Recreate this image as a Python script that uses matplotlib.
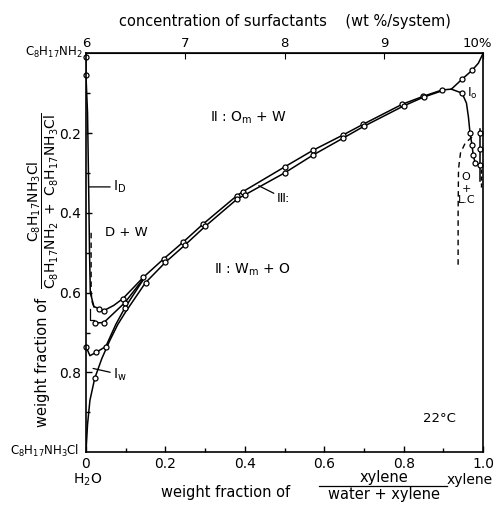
import matplotlib.pyplot as plt
import numpy as np

# boundary curves (x = xylene fraction, y = C8H17NH3Cl fraction)
id_x = [0.0, 0.0, 0.004, 0.007, 0.009, 0.011, 0.02]
id_y = [0.0, 0.055, 0.15, 0.35, 0.5, 0.6, 0.635]
id_pts_x = [0.0, 0.0]
id_pts_y = [0.01, 0.055]

upper_x = [0.02, 0.033, 0.045, 0.07, 0.093, 0.144, 0.196, 0.245, 0.295, 0.38, 0.395, 0.5, 0.572, 0.647, 0.698, 0.796, 0.849, 0.897, 0.92]
upper_y = [0.635, 0.64, 0.645, 0.632, 0.615, 0.562, 0.515, 0.473, 0.428, 0.357, 0.347, 0.285, 0.243, 0.205, 0.178, 0.128, 0.108, 0.092, 0.09]
upper_pts_x = [0.033, 0.045, 0.093, 0.144, 0.196, 0.245, 0.295, 0.38, 0.395, 0.5, 0.572, 0.647, 0.698, 0.796, 0.849, 0.897]
upper_pts_y = [0.64, 0.645, 0.615, 0.562, 0.515, 0.473, 0.428, 0.357, 0.347, 0.285, 0.243, 0.205, 0.178, 0.128, 0.108, 0.092]

mid_x = [0.023, 0.045, 0.098, 0.144]
mid_y = [0.676, 0.675, 0.625, 0.566]
mid_pts_x = [0.023, 0.045, 0.098]
mid_pts_y = [0.676, 0.675, 0.625]

a_x = [0.0, 0.01, 0.025, 0.05, 0.075, 0.098, 0.144]
a_y = [0.735, 0.758, 0.75, 0.735, 0.68, 0.638, 0.568]
a_pts_x = [0.0, 0.025, 0.05, 0.098]
a_pts_y = [0.735, 0.75, 0.735, 0.638]

iw_x = [0.0, 0.004, 0.01, 0.022, 0.04, 0.06, 0.08, 0.1, 0.15, 0.2, 0.25, 0.3, 0.38, 0.4, 0.5, 0.572, 0.647, 0.7, 0.8, 0.85, 0.9]
iw_y = [1.0, 0.93, 0.87, 0.815, 0.765, 0.72, 0.68, 0.648, 0.575, 0.524, 0.48, 0.434, 0.366, 0.355, 0.3, 0.255, 0.213, 0.183, 0.132, 0.11, 0.093]
iw_pts_x = [0.022, 0.15, 0.2, 0.25, 0.3, 0.38, 0.4, 0.5, 0.572, 0.647, 0.7, 0.8, 0.85]
iw_pts_y = [0.815, 0.575, 0.524, 0.48, 0.434, 0.366, 0.355, 0.3, 0.255, 0.213, 0.183, 0.132, 0.11]

io_up_x = [0.92, 0.947, 0.972, 0.988, 1.0]
io_up_y = [0.09, 0.065, 0.043, 0.025, 0.0]
io_up_pts_x = [0.947, 0.972]
io_up_pts_y = [0.065, 0.043]

io_dn_x = [0.92, 0.947, 0.958, 0.963, 0.967, 0.972, 0.975, 0.98]
io_dn_y = [0.09, 0.1, 0.125, 0.16, 0.2, 0.23, 0.255, 0.275]
io_dn_pts_x = [0.947, 0.967, 0.972, 0.975, 0.98]
io_dn_pts_y = [0.1, 0.2, 0.23, 0.255, 0.275]

edge_pts_x = [0.992, 0.992, 0.992]
edge_pts_y = [0.2, 0.24, 0.28]

lc_x = [0.972, 0.955, 0.943, 0.938, 0.937, 0.937]
lc_y = [0.21, 0.225, 0.25, 0.29, 0.4, 0.535]

d_x = [0.013, 0.013, 0.016, 0.022]
d_y = [0.45, 0.6, 0.625, 0.64]

bottom_ticks = [0, 0.2, 0.4, 0.6, 0.8, 1.0]
bottom_labels = ['0', '0.2', '0.4', '0.6', '0.8', '1.0']
left_ticks = [0.2, 0.4, 0.6, 0.8]
left_labels = ['0.2', '0.4', '0.6', '0.8']
top_vals = [6, 7, 8, 9, 10]
top_labels = ['6', '7', '8', '9', '']

fig = plt.figure(figsize=(4.94, 5.07), dpi=100)
ax = fig.add_axes([0.174, 0.108, 0.804, 0.787])

lw = 1.1
mk = dict(marker='o', ms=3.6, mfc='white', mec='black', mew=0.9, ls='none')

ax.plot(id_x, id_y, color='black', lw=lw)
ax.plot(upper_x, upper_y, color='black', lw=lw)
ax.plot(mid_x, mid_y, color='black', lw=lw)
ax.plot(a_x, a_y, color='black', lw=lw)
ax.plot(iw_x, iw_y, color='black', lw=lw)
ax.plot(io_up_x, io_up_y, color='black', lw=lw)
ax.plot(io_dn_x, io_dn_y, color='black', lw=lw)
ax.plot([0.992, 0.992], [0.19, 0.32], color='black', lw=lw)
ax.plot(lc_x, lc_y, color='black', lw=1.0, ls=(0, (4, 3)))
ax.plot([0.995, 0.995], [0.29, 0.34], color='black', lw=1.0, ls=(0, (3, 2)))
ax.plot(d_x, d_y, color='black', lw=1.0, ls=(0, (4, 3)))
# small tie line marks near the water corner
ax.plot([0.01, 0.01, 0.02], [0.64, 0.668, 0.668], color='black', lw=0.9)

for px, py in [(id_pts_x, id_pts_y), (upper_pts_x, upper_pts_y), (mid_pts_x, mid_pts_y),
               (a_pts_x, a_pts_y), (iw_pts_x, iw_pts_y), (io_up_pts_x, io_up_pts_y),
               (io_dn_pts_x, io_dn_pts_y), (edge_pts_x, edge_pts_y)]:
    ax.plot(px, py, clip_on=False, **mk)

ax.set_xlim(0, 1)
ax.set_ylim(1, 0)
for s in ax.spines.values():
    s.set_linewidth(1.2)

ax.set_xticks(bottom_ticks)
ax.set_xticklabels(bottom_labels)
ax.set_xticks(np.arange(0.1, 1.0, 0.2), minor=True)
ax.set_yticks(left_ticks)
ax.set_yticklabels(left_labels)
ax.set_yticks(np.arange(0.1, 1.0, 0.2), minor=True)
ax.tick_params(which='both', direction='in', top=False, right=False, labelsize=10, width=1)
ax.tick_params(which='major', length=4)
ax.tick_params(which='minor', length=3)

top = ax.secondary_xaxis('top', functions=(lambda x: 6 + 4 * x, lambda c: (c - 6) / 4))
top.set_xticks(top_vals)
top.set_xticklabels(top_labels)
top.tick_params(direction='in', length=4, labelsize=9.5, pad=2)
top.set_xlabel('concentration of surfactants    (wt %/system)', fontsize=10.5, labelpad=8)
# last top label sits flush with the right edge
fig.text(0.996, 0.9005, '10%', ha='right', va='bottom', fontsize=9.5)

# corner names
fig.text(0.168, 0.897, r'C$_8$H$_{17}$NH$_2$', ha='right', va='center', fontsize=8.5)
fig.text(0.16, 0.11, r'C$_8$H$_{17}$NH$_3$Cl', ha='right', va='center', fontsize=8.5)
ax.text(0.003, -0.07, r'H$_2$O', ha='center', va='center', fontsize=10, transform=ax.transAxes)
ax.text(0.967, -0.07, 'xylene', ha='center', va='center', fontsize=10, transform=ax.transAxes)

# axis titles
fig.text(0.457, 0.028, 'weight fraction of', ha='center', va='center', fontsize=10.5)
fig.text(0.777, 0.058, 'xylene', ha='center', va='center', fontsize=10.5)
fig.text(0.777, 0.024, 'water + xylene', ha='center', va='center', fontsize=10.5)
fig.add_artist(plt.Line2D([0.645, 0.905], [0.041, 0.041], color='black', lw=0.9,
                          transform=fig.transFigure))
fig.text(0.087, 0.285, 'weight fraction of', rotation=90, ha='center', va='center', fontsize=10.5)
fig.text(0.087, 0.603, r'$\dfrac{\mathrm{C_8H_{17}NH_3Cl}}{\mathrm{C_8H_{17}NH_2\ +\ C_8H_{17}NH_3Cl}}$',
         rotation=90, ha='center', va='center', fontsize=10)

# region labels
ax.text(0.41, 0.163, r'Ⅱ : O$_\mathrm{m}$ + W', fontsize=10, ha='center', va='center')
ax.text(0.42, 0.543, r'Ⅱ : W$_\mathrm{m}$ + O', fontsize=10, ha='center', va='center')
ax.text(0.103, 0.45, 'D + W', fontsize=9.5, ha='center', va='center')
ax.text(0.89, 0.915, '22°C', fontsize=9.5, ha='center', va='center')
ax.annotate('Ⅲ:', xy=(0.435, 0.332), xytext=(0.48, 0.363), fontsize=9.5, va='center',
            arrowprops=dict(arrowstyle='-', lw=0.9, color='black', shrinkA=0, shrinkB=0))
ax.annotate(r'I$_\mathrm{D}$', xy=(0.008, 0.335), xytext=(0.068, 0.335), fontsize=10, va='center',
            arrowprops=dict(arrowstyle='-', lw=0.9, color='black', shrinkA=0, shrinkB=0))
ax.annotate(r'I$_\mathrm{w}$', xy=(0.018, 0.79), xytext=(0.068, 0.805), fontsize=10, va='center',
            arrowprops=dict(arrowstyle='-', lw=0.9, color='black', shrinkA=0, shrinkB=0))
ax.text(0.973, 0.1, r'I$_\mathrm{o}$', fontsize=9, ha='center', va='center')
ax.text(0.957, 0.31, 'O', fontsize=8, ha='center', va='center')
ax.text(0.957, 0.34, '+', fontsize=8, ha='center', va='center')
ax.text(0.958, 0.369, 'L.C', fontsize=8, ha='center', va='center')

fig.savefig('out.png', dpi=100)
